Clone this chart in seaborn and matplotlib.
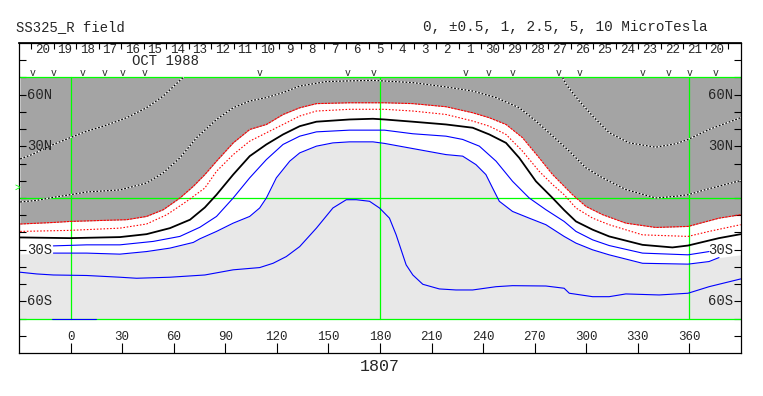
import numpy as np
import seaborn as sns
import matplotlib
import matplotlib.pyplot as plt

matplotlib.use('Agg')

# contour traces (Carrington longitude, latitude)
upper_dash_w_lon = [-29.3, -22.5, -10, -0.3, 9.4, 19.1, 32.6, 44.2, 53.9, 65.5]
upper_dash_w_lat = [22.7, 25.2, 31.1, 35.0, 38.8, 41.7, 46.6, 52.4, 59.2, 70.0]
upper_dash_e_lon = [286.2, 288.2, 295.9, 303.7, 313.3, 325, 340.4, 352.1, 359.2, 371.4, 389.8]
upper_dash_e_lat = [70.0, 66.0, 56.3, 47.6, 37.9, 32.0, 29.5, 31.5, 34.0, 39.8, 46.6]

lower_dash_lon = [-29.3, -19.7, -10, -0.3, 9.4, 28.7, 44.2, 53.9, 63.6, 73.3, 84.9, 94.6,
                  104.2, 113.9, 123.6, 133.3, 148.8, 162.3, 175.9, 199.1, 218.4, 233.9,
                  247.5, 261, 270.7, 280.4, 290.1, 299.8, 309.5, 323, 340.4, 352.1, 359.2,
                  369.5, 389.8]
lower_dash_lat = [-2.3, -1.4, 0.4, 1.9, 3.5, 4.7, 8.7, 14.6, 23.3, 35.0, 45.6, 52.4,
                  56.3, 58.3, 61.2, 65.0, 67.6, 68.0, 68.3, 67.0, 64.5, 62.1,
                  58.3, 52.4, 44.7, 36.0, 27.2, 17.5, 11.7, 4.9, 0.0, 1.0, 1.9,
                  4.9, 10.1]

neg1_lon = [-29.3, -10, -0.3, 19.1, 32.6, 44.2, 53.9, 63.6, 71.4, 78.1, 84.9, 94.6, 104.2,
            113.9, 123.6, 133.3, 143, 162.3, 182.6, 199.1, 218.4, 233.9, 243.6, 253.3,
            262.9, 272.6, 280.4, 292, 299.8, 309.5, 323, 340.4, 359.2, 377.2, 389.8]
neg1_lat = [-15.1, -14.2, -13.6, -13.0, -12.6, -10.7, -6.8, 0.0, 6.8, 13.6, 21.4, 32.0, 39.8,
            42.7, 48.5, 52.4, 54.8, 55.3, 55.3, 54.8, 53.0, 49.5, 46.6, 42.7,
            35.0, 23.3, 13.6, 1.9, -4.9, -9.7, -14.6, -17.1, -16.5, -11.7, -9.7]

neg05_lon = [-29.3, -0.3, 28.7, 44.2, 56, 67.6, 78.1, 84.9, 94.6, 104.2, 123.6, 133.3, 143,
             162.3, 182.6, 199.1, 218.4, 233.9, 243.6, 253.3, 262.9, 272.6, 280.4, 287.1,
             294, 303.7, 313.3, 332.7, 359.2, 371.4, 389.8]
neg05_lat = [-19.4, -18.8, -17.5, -15.1, -9.7, -1.9, 5.8, 15.5, 25.2, 33.0, 42.7, 47.6, 50.5,
             51.5, 51.5, 50.5, 48.5, 44.7, 41.7, 36.9, 27.2, 15.5, 7.8, 1.9,
             -5.8, -11.7, -15.5, -21.4, -22.3, -19.4, -15.5]

zero_lon = [-29.3, -0.3, 28.7, 44.2, 57.8, 69.5, 78.1, 84.9, 94.6, 104.2, 113.9, 123.6, 133.3,
            143, 162.3, 175.9, 182.6, 199.1, 218.4, 233.9, 243.6, 253.3, 261, 270.7, 280.4,
            287.1, 294, 303.7, 313.3, 332.7, 350.1, 359.2, 377.2, 389.8]
zero_lat = [-22.9, -23.3, -22.7, -21.0, -17.5, -12.6, -5.5, 1.9, 13.6, 24.3, 31.1, 36.9, 41.7,
            44.3, 45.6, 46.0, 45.6, 44.3, 42.7, 40.8, 36.9, 32.0, 23.3, 9.7, 0.0,
            -7.0, -13.6, -18.4, -22.3, -27.2, -28.7, -27.6, -23.3, -21.0]

pos05_lon = [-10, 9.4, 28.7, 48.1, 63.6, 75.2, 84.9, 94.6, 104.2, 113.9, 123.6, 133.3, 143,
             162.3, 182.6, 199.1, 218.4, 228.1, 237.8, 247.5, 257.1, 266.8, 276.5, 287.1,
             294, 303.7, 313.3, 332.7, 359.2, 371.4]
pos05_lat = [-27.8, -27.2, -27.2, -25.2, -22.3, -17.0, -10.7, 0.0, 11.7, 22.3, 31.1, 35.9, 38.4,
             39.4, 39.4, 37.3, 35.9, 34.0, 30.1, 21.4, 9.7, 0.0, -6.8, -13.6,
             -19.4, -24.3, -27.6, -32.0, -33.0, -31.1]

pos1_lon = [-10, 9.4, 28.7, 44.2, 57.8, 71.4, 75.2, 84.9, 94.6, 104.2, 110, 113.9, 119.7,
            127.5, 133.3, 143, 152.6, 162.3, 175.9, 182.6, 199.1, 218.4, 228.1, 235.8, 241.6,
            245.5, 249.4, 257.1, 266.8, 276.5, 287.1, 294, 303.7, 313.3, 332.7, 359.2, 371.4,
            377.2]
pos1_lat = [-32.0, -32.0, -32.6, -31.1, -29.1, -25.8, -23.7, -19.4, -14.6, -10.7, -5.8, 0.0, 11.7,
            21.4, 26.2, 30.1, 32.0, 32.6, 32.6, 31.7, 28.7, 25.2, 24.3, 19.4, 13.6,
            5.8, -1.9, -7.8, -11.7, -15.5, -22.3, -26.2, -30.1, -33.0, -37.9, -38.4, -36.9,
            -34.6]
# edge of the light shading beyond the ends of the +1 trace
shade_west = ([-29.3], [-32.5])
shade_east = ([389.8], [-33.0])

pos25_lon = [-29.3, -19.7, -10, 9.4, 28.7, 38.4, 57.8, 78.1, 94.6, 110, 117.8, 125.5, 133.3,
             143, 152.6, 160.4, 166.2, 173.9, 179.7, 185.5, 189.4, 195.2, 199.1, 204.9,
             214.5, 224.2, 233.9, 247.5, 257.1, 276.5, 287.1, 290.1, 303.7, 313.3, 323,
             342.4, 359.2, 371.4, 389.8]
pos25_lat = [-43.1, -44.1, -44.7, -45.0, -46.0, -46.6, -46.0, -44.7, -41.7, -40.4, -37.9, -34.0,
             -28.2, -17.5, -5.8, -1.0, -1.0, -1.9, -5.8, -11.7, -21.4, -38.8, -44.7, -50.1,
             -52.8, -53.4, -53.4, -51.5, -50.9, -51.1, -52.4, -55.3, -57.3, -57.3, -55.7,
             -56.3, -55.3, -51.5, -47.0]
pos5_lon = [-11, 15]
pos5_lat = [-70, -70]

# axis annotation
lon_ticks = [0, 30, 60, 90, 120, 150, 180, 210, 240, 270, 300, 330, 360]
lat_labels = {60: '60N', 30: '30N', -30: '30S', -60: '60S'}
days = [20, 19, 18, 17, 16, 15, 14, 13, 12, 11, 10, 9, 8, 7, 6, 5, 4, 3, 2, 1,
        30, 29, 28, 27, 26, 25, 24, 23, 22, 21, 20]
day_lon0, day_step = -16.3, 13.08
obs_lons = [-22, -10, 7, 20, 30, 43, 110, 161, 176, 230, 243, 257, 284, 296, 333, 348, 360, 375]

DARK = '#a4a4a4'
LIGHT = '#e8e8e8'
GREEN = '#00ff00'


def draw_line(ax, lon, lat, color, lw=0.75, ls='-'):
    sns.lineplot(x=lon, y=lat, sort=False, estimator=None, color=color,
                 lw=lw, linestyle=ls, ax=ax)


def plot_chart():
    sns.set_theme(style='white')
    plt.rcParams['font.family'] = ['Liberation Mono', 'DejaVu Sans']

    fig = plt.figure(figsize=(7.63, 3.96), dpi=100)
    ax = fig.add_axes([19 / 763, 43 / 396, 722 / 763, 310 / 396])

    # shading
    ax.fill_between(neg1_lon, neg1_lat, 70, color=DARK, lw=0, zorder=0)
    g_lon = shade_west[0] + pos1_lon + shade_east[0]
    g_lat = shade_west[1] + pos1_lat + shade_east[1]
    ax.fill_between(g_lon, -70, g_lat, color=LIGHT, lw=0, zorder=0)

    # grid lines
    for lat in [70, 0, -70]:
        ax.axhline(lat, color=GREEN, lw=0.9, zorder=1)
    for lon in [0, 180, 360]:
        ax.plot([lon, lon], [-70, 70], color=GREEN, lw=0.9, zorder=1)

    # contours
    for lon, lat in [(upper_dash_w_lon, upper_dash_w_lat),
                     (upper_dash_e_lon, upper_dash_e_lat),
                     (lower_dash_lon, lower_dash_lat)]:
        draw_line(ax, lon, lat, 'white', lw=0.9)
        draw_line(ax, lon, lat, 'black', lw=0.9, ls=(0, (1.4, 1.4)))
    draw_line(ax, neg1_lon, neg1_lat, 'red', lw=0.8, ls=(0, (2.2, 0.8)))
    draw_line(ax, neg05_lon, neg05_lat, 'red', lw=0.8, ls=(0, (1.4, 1.6)))
    draw_line(ax, zero_lon, zero_lat, 'black', lw=1.3)
    draw_line(ax, pos05_lon, pos05_lat, 'blue', lw=0.8)
    draw_line(ax, pos1_lon, pos1_lat, 'blue', lw=0.8)
    draw_line(ax, pos25_lon, pos25_lat, 'blue', lw=0.8)
    draw_line(ax, pos5_lon, pos5_lat, 'blue', lw=0.8)

    ax.set_xlim(-30, 390)
    ax.set_ylim(-90, 90)
    ax.set_xlabel('')
    ax.set_ylabel('')

    # ticks
    ax.set_xticks(lon_ticks)
    ax.set_yticks(range(-80, 81, 10))
    ax.tick_params(axis='x', bottom=True, top=False, direction='in', length=7.5,
                   width=0.8, color='black', labelbottom=False)
    ax.tick_params(axis='y', left=True, right=True, direction='in', length=5,
                   width=0.8, color='black', labelleft=False)
    for s in ax.spines.values():
        s.set_color('black')
        s.set_linewidth(0.9)

    day_lons = day_lon0 + day_step * np.arange(len(days))
    bounds = np.append(day_lons - day_step / 2, day_lons[-1] + day_step / 2)
    secax = ax.secondary_xaxis('top')
    secax.set_xticks(bounds)
    secax.tick_params(direction='in', length=4.5, width=0.8, color='black',
                      labeltop=False)
    secax.spines['top'].set_color('black')

    # text
    for lon in lon_ticks:
        ax.text(lon, -80.8, str(lon), ha='center', va='center', fontsize=9)
    for lat, lab in lat_labels.items():
        ax.text(-25.5, lat, lab, ha='left', va='center', fontsize=10)
        ax.text(385.3, lat, lab, ha='right', va='center', fontsize=10)
    for lon, d in zip(day_lons, days):
        ax.text(lon, 86.0, str(d), ha='center', va='center', fontsize=9)
    for lon in obs_lons:
        ax.text(lon, 72.6, 'v', ha='center', va='center', fontsize=7)
    ax.text(55.5, 79.3, 'OCT 1988', ha='center', va='center', fontsize=10)
    ax.text(-31, 6, '>', color=GREEN, ha='center', va='center', fontsize=7, clip_on=False)
    ax.text(180, -97.6, '1807', ha='center', va='center', fontsize=12, clip_on=False)

    fig.text(16 / 763, 1 - 27.5 / 396, 'SS325_R field', ha='left', va='center', fontsize=10)
    fig.text(423 / 763, 1 - 27.5 / 396, '0, \u00b10.5, 1, 2.5, 5, 10 MicroTesla',
             ha='left', va='center', fontsize=10.4)

    fig.savefig('out.png', dpi=100)


plot_chart()
